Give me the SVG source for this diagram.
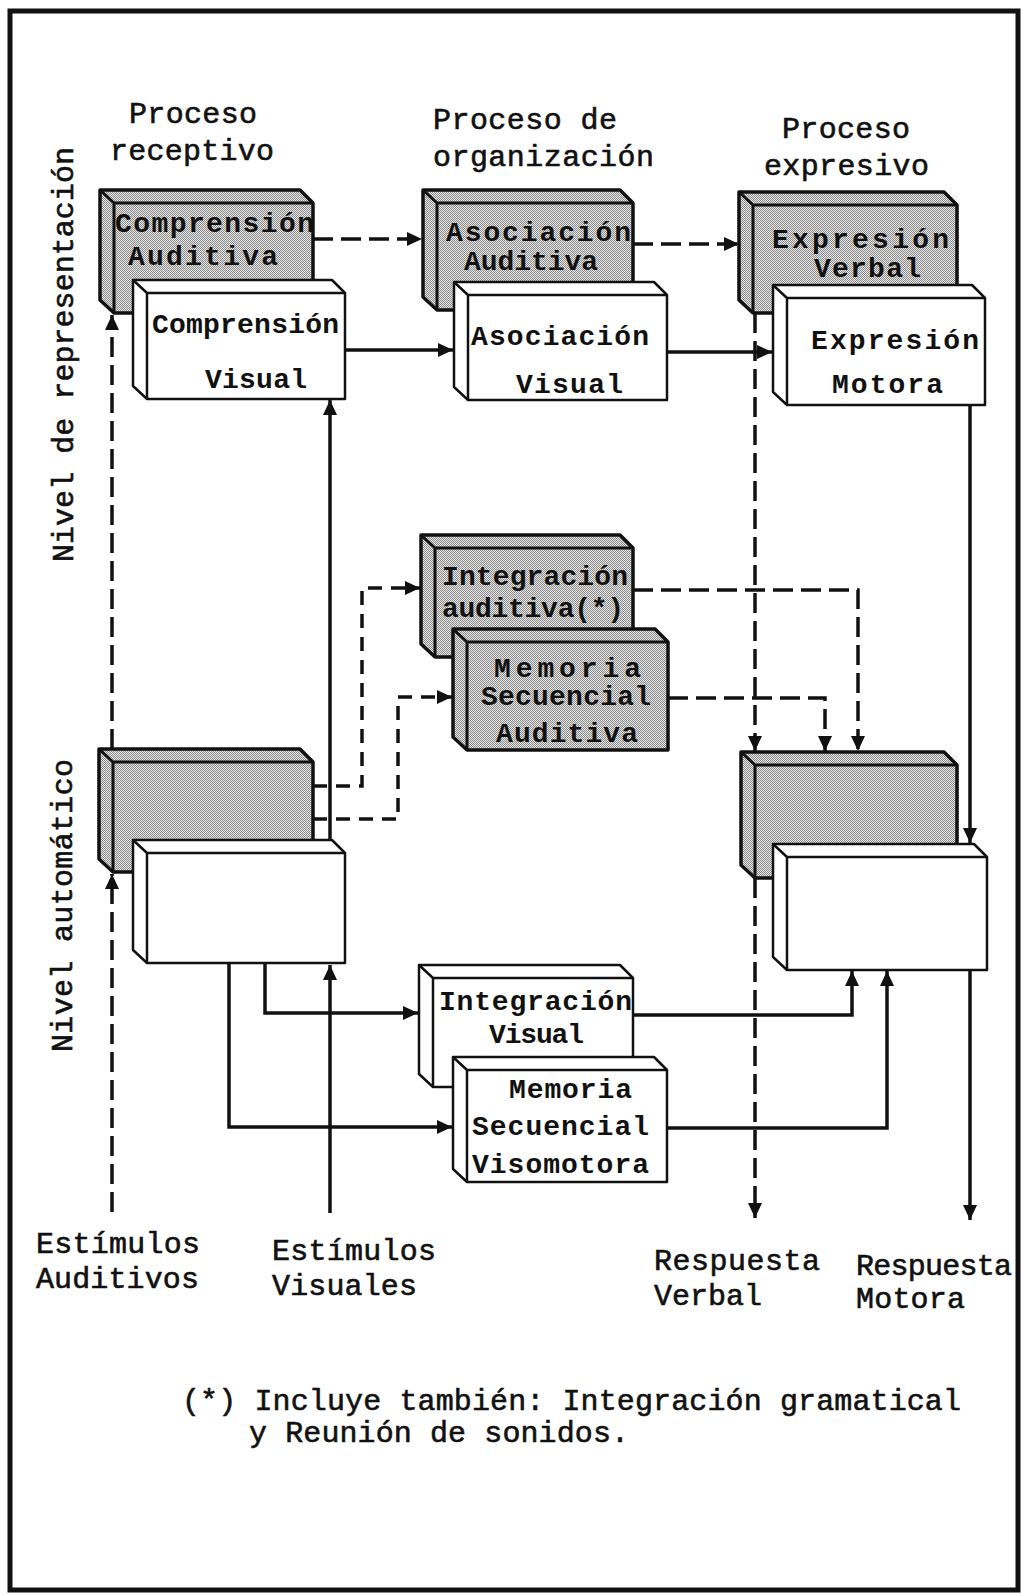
<svg xmlns="http://www.w3.org/2000/svg" width="1021" height="1595" viewBox="0 0 1021 1595">
<style>
.hdr{font-family:"Liberation Mono","DejaVu Sans Mono",monospace;font-size:30px;fill:#111;stroke:#111;stroke-width:0.6}
.bx{font-family:"Liberation Mono","DejaVu Sans Mono",monospace;font-size:28px;font-weight:bold;fill:#111}
.gbox polygon{fill:url(#stip);stroke:#111;stroke-width:3.5;stroke-linejoin:round}
.wbox polygon{fill:#fff;stroke:#111;stroke-width:2.5;stroke-linejoin:round}
.gbox .face{fill:none;stroke:#111;stroke-width:3}
.wbox .face{fill:none;stroke:#111;stroke-width:2.5}
.solid{fill:none;stroke:#111;stroke-width:3.5}
.dash{fill:none;stroke:#111;stroke-width:3.5;stroke-dasharray:20 8}
.dash2{fill:none;stroke:#111;stroke-width:3.5;stroke-dasharray:14 9}
</style>
<defs>
<pattern id="stip" width="2" height="2" patternUnits="userSpaceOnUse">
<rect width="2" height="2" fill="#e6e6e6"/>
<rect width="1" height="1" fill="#8c8c8c"/>
<rect x="1" y="1" width="1" height="1" fill="#8c8c8c"/>
</pattern>
<marker id="ah" markerUnits="userSpaceOnUse" markerWidth="16" markerHeight="14" refX="15" refY="7" orient="auto">
<path d="M0,0 L15,7 L0,14 z" fill="#111"/>
</marker>
</defs>
<rect x="0" y="0" width="1021" height="1595" fill="#fff"/>
<rect x="10" y="11" width="1008" height="1579" fill="none" stroke="#111" stroke-width="5"/>

<!-- headings -->
<g id="headers">
<text class="hdr" x="129" y="123" textLength="128">Proceso</text>
<text class="hdr" x="110" y="160" textLength="164">receptivo</text>
<text class="hdr" x="433" y="129" textLength="184">Proceso de</text>
<text class="hdr" x="433" y="166" textLength="221">organización</text>
<text class="hdr" x="782" y="138" textLength="128">Proceso</text>
<text class="hdr" x="764" y="175" textLength="165">expresivo</text>
<text class="hdr" transform="translate(73,562) rotate(-90)" textLength="415">Nivel de representación</text>
<text class="hdr" transform="translate(72,1052) rotate(-90)" textLength="293">Nivel automático</text>
</g>

<!-- boxes -->
<g id="comprension-auditiva" class="gbox">
<polygon points="100,190 300,190 313,203 313,313 114,313 100,300"/>
<path class="face" d="M114,203 H313 M114,203 V313 M100,190 L114,203"/>
<text class="bx" x="115" y="232" textLength="199">Comprensión</text>
<text class="bx" x="128" y="265" textLength="150">Auditiva</text>
</g>
<g id="comprension-visual" class="wbox">
<polygon points="133,280 332,280 345,293 345,399 147,399 133,386"/>
<path class="face" d="M147,293 H345 M147,293 V399 M133,280 L147,293"/>
<text class="bx" x="152" y="333" textLength="187">Comprensión</text>
<text class="bx" x="205" y="388" textLength="102">Visual</text>
</g>
<g id="asociacion-auditiva" class="gbox">
<polygon points="423,190 620,190 633,203 633,310 437,310 423,297"/>
<path class="face" d="M437,203 H633 M437,203 V310 M423,190 L437,203"/>
<text class="bx" x="446" y="241" textLength="185">Asociación</text>
<text class="bx" x="464" y="270" textLength="134">Auditiva</text>
</g>
<g id="asociacion-visual" class="wbox">
<polygon points="454,282 654,282 667,295 667,400 468,400 454,387"/>
<path class="face" d="M468,295 H667 M468,295 V400 M454,282 L468,295"/>
<text class="bx" x="471" y="345" textLength="178">Asociación</text>
<text class="bx" x="516" y="393" textLength="107">Visual</text>
</g>
<g id="expresion-verbal" class="gbox">
<polygon points="739,192 944,192 957,205 957,313 753,313 739,300"/>
<path class="face" d="M753,205 H957 M753,205 V313 M739,192 L753,205"/>
<text class="bx" x="772" y="248" textLength="177">Expresión</text>
<text class="bx" x="814" y="277" textLength="107">Verbal</text>
</g>
<g id="expresion-motora" class="wbox">
<polygon points="773,285 972,285 985,298 985,405 787,405 773,392"/>
<path class="face" d="M787,298 H985 M787,298 V405 M773,285 L787,298"/>
<text class="bx" x="811" y="349" textLength="168">Expresión</text>
<text class="bx" x="832" y="393" textLength="111">Motora</text>
</g>
<g id="integracion-auditiva" class="gbox">
<polygon points="421,535 620,535 633,548 633,657 435,657 421,644"/>
<path class="face" d="M435,548 H633 M435,548 V657 M421,535 L435,548"/>
<text class="bx" x="442" y="585" textLength="186">Integración</text>
<text class="bx" x="442" y="617" textLength="182">auditiva(*)</text>
</g>
<g id="memoria-secuencial-auditiva" class="gbox">
<polygon points="453,629 655,629 668,642 668,750 467,750 453,737"/>
<path class="face" d="M467,642 H668 M467,642 V750 M453,629 L467,642"/>
<text class="bx" x="494" y="677" textLength="147">Memoria</text>
<text class="bx" x="481" y="705" textLength="170">Secuencial</text>
<text class="bx" x="496" y="742" textLength="142">Auditiva</text>
</g>
<g id="automatico-auditivo" class="gbox">
<polygon points="99,749 300,749 313,762 313,872 113,872 99,859"/>
<path class="face" d="M113,762 H313 M113,762 V872 M99,749 L113,762"/>
</g>
<g id="automatico-visual" class="wbox">
<polygon points="133,840 332,840 345,853 345,963 147,963 133,950"/>
<path class="face" d="M147,853 H345 M147,853 V963 M133,840 L147,853"/>
</g>
<g id="automatico-verbal" class="gbox">
<polygon points="741,752 944,752 957,765 957,878 755,878 741,865"/>
<path class="face" d="M755,765 H957 M755,765 V878 M741,752 L755,765"/>
</g>
<g id="automatico-motor" class="wbox">
<polygon points="773,844 974,844 987,857 987,970 787,970 773,957"/>
<path class="face" d="M787,857 H987 M787,857 V970 M773,844 L787,857"/>
</g>
<g id="integracion-visual" class="wbox">
<polygon points="419,965 620,965 633,978 633,1087 433,1087 419,1074"/>
<path class="face" d="M433,978 H633 M433,978 V1087 M419,965 L433,978"/>
<text class="bx" x="439" y="1010" textLength="193">Integración</text>
<text class="bx" x="489" y="1043" textLength="95">Visual</text>
</g>
<g id="memoria-secuencial-visomotora" class="wbox">
<polygon points="453,1057 654,1057 667,1070 667,1182 467,1182 453,1169"/>
<path class="face" d="M467,1070 H667 M467,1070 V1182 M453,1057 L467,1070"/>
<text class="bx" x="509" y="1098" textLength="123">Memoria</text>
<text class="bx" x="472" y="1135" textLength="177">Secuencial</text>
<text class="bx" x="472" y="1173" textLength="177">Visomotora</text>
</g>

<!-- connectors -->
<g id="connectors">
<path class="dash" d="M313,239 H422" marker-end="url(#ah)"/>
<path class="dash" d="M633,244 H739" marker-end="url(#ah)"/>
<path class="solid" d="M345,350 H453" marker-end="url(#ah)"/>
<path class="solid" d="M667,352 H772" marker-end="url(#ah)"/>
<path class="dash" d="M112,1212 V874" marker-end="url(#ah)"/>
<path class="dash" d="M112,749 V315" marker-end="url(#ah)"/>
<path class="solid" d="M330,1213 V965" marker-end="url(#ah)"/>
<path class="solid" d="M330,840 V400" marker-end="url(#ah)"/>
<path class="dash2" d="M313,786 H362 V588 H420" marker-end="url(#ah)"/>
<path class="dash2" d="M313,819 H398 V697 H452" marker-end="url(#ah)"/>
<path class="dash" d="M633,590 H858 V751" marker-end="url(#ah)"/>
<path class="dash" d="M668,698 H825 V751" marker-end="url(#ah)"/>
<path class="dash" d="M755,313 V751" marker-end="url(#ah)"/>
<path class="dash" d="M755,878 V1218" marker-end="url(#ah)"/>
<path class="solid" d="M970,405 V843" marker-end="url(#ah)"/>
<path class="solid" d="M970,970 V1220" marker-end="url(#ah)"/>
<path class="solid" d="M265,963 V1013 H418" marker-end="url(#ah)"/>
<path class="solid" d="M229,963 V1127 H452" marker-end="url(#ah)"/>
<path class="solid" d="M633,1015 H852 V971" marker-end="url(#ah)"/>
<path class="solid" d="M667,1128 H887 V971" marker-end="url(#ah)"/>
</g>

<!-- bottom labels -->
<g id="labels">
<text class="hdr" x="36" y="1253" textLength="164">Estímulos</text>
<text class="hdr" x="36" y="1288" textLength="163">Auditivos</text>
<text class="hdr" x="272" y="1260" textLength="164">Estímulos</text>
<text class="hdr" x="272" y="1295" textLength="145">Visuales</text>
<text class="hdr" x="654" y="1270" textLength="166">Respuesta</text>
<text class="hdr" x="654" y="1305" textLength="108">Verbal</text>
<text class="hdr" x="856" y="1275" textLength="156">Respuesta</text>
<text class="hdr" x="856" y="1308" textLength="109">Motora</text>
<text class="hdr" x="182" y="1410" textLength="779">(*) Incluye también: Integración gramatical</text>
<text class="hdr" x="249" y="1442" textLength="380">y Reunión de sonidos.</text>
</g>
</svg>
